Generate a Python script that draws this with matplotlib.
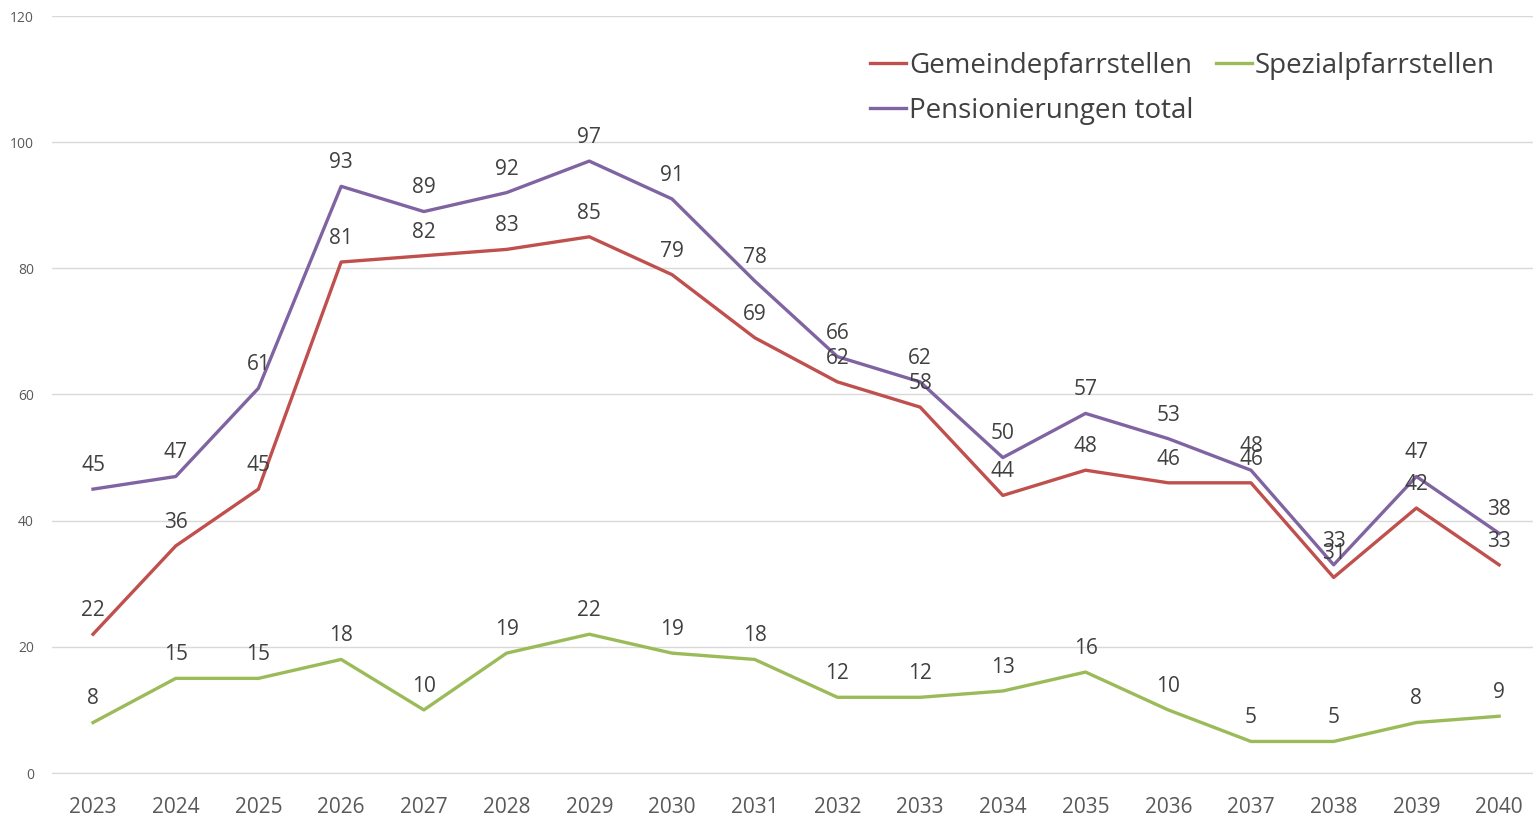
import matplotlib
matplotlib.use("Agg")
import matplotlib.pyplot as plt

years = ["2023","2024","2025","2026","2027","2028","2029","2030","2031","2032",
         "2033","2034","2035","2036","2037","2038","2039","2040"]
gemeinde = [22,36,45,81,82,83,85,79,69,62,58,44,48,46,46,31,42,33]
spezial = [8,15,15,18,10,19,22,19,18,12,12,13,16,10,5,5,8,9]
total = [45,47,61,93,89,92,97,91,78,66,62,50,57,53,48,33,47,38]
series_names = ["Gemeindepfarrstellen", "Spezialpfarrstellen", "Pensionierungen total"]
yticks = [0, 20, 40, 60, 80, 100, 120]

plt.rcParams['font.family'] = ['Open Sans', 'DejaVu Sans']

fig = plt.figure(figsize=(15.33, 8.21), dpi=100)
ax = fig.add_axes([52/1533, 1-773/821, 1-52/1533, (773-16)/821])

colors = ["#C0504D", "#9BBB59", "#8064A2"]
x = list(range(len(years)))
lines = []
for vals, name, c in zip([gemeinde, spezial, total], series_names, colors):
    ln, = ax.plot(x, vals, color=c, lw=2.4, label=name, solid_joinstyle='round')
    lines.append(ln)
    for xi, v in zip(x, vals):
        ax.annotate(str(v), (xi, v), xytext=(0, 17), textcoords='offset points',
                    ha='center', va='center', fontsize=15, color='#404040')

ax.set_ylim(0, 120)
ax.set_xlim(-0.496, 17.41)
ax.set_yticks(yticks)
ax.set_xticks(x)
ax.set_xticklabels(years)
ax.tick_params(axis='y', labelsize=10, colors='#595959', length=0, pad=13)
ax.tick_params(axis='x', labelsize=15, colors='#595959', length=0, pad=17)
ax.grid(axis='y', color='#D9D9D9', lw=1)
ax.set_axisbelow(True)
for s in ['top', 'right', 'left']:
    ax.spines[s].set_visible(False)
ax.spines['bottom'].set_color('#D9D9D9')

# column-major fill: col1 = Gemeinde, Pensionierungen ; col2 = Spezial
order = [0, 2, 1]
leg = fig.legend([lines[i] for i in order], [series_names[i] for i in order],
                 ncol=2, loc='upper left',
                 bbox_to_anchor=(845/1533, 1-27/821), frameon=False,
                 fontsize=20, handlelength=1.3, handletextpad=0.1,
                 columnspacing=0.8, labelspacing=0.6, labelcolor='#404040')

fig.savefig("out.png", dpi=100)
